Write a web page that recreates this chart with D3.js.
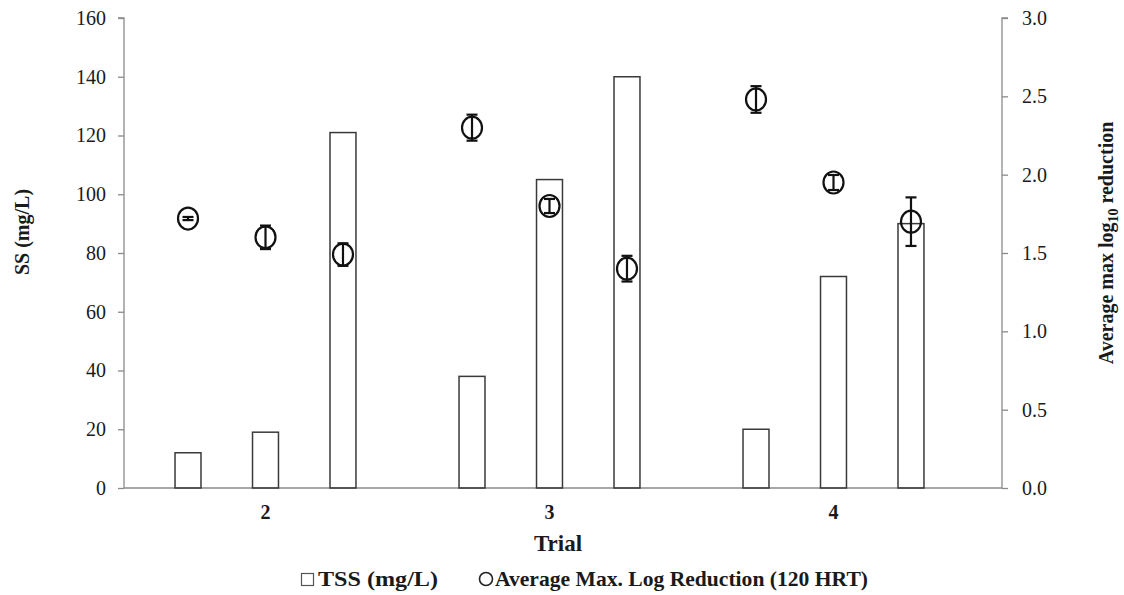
<!DOCTYPE html>
<html>
<head>
<meta charset="utf-8">
<script src="https://cdn.jsdelivr.net/npm/d3@7"></script>
<style>
  body { margin: 0; background: #fff; }
  text { font-family: "Liberation Serif", "Times New Roman", serif; fill: #1a1a1a; }
</style>
</head>
<body>
<div id="chart"></div>
<script>
let svgWidth = 1124;
let svgHeight = 595;
let margin = { top: 18, right: 122, bottom: 107, left: 124 };
let chartWidth = svgWidth - margin.left - margin.right;
let chartHeight = svgHeight - margin.top - margin.bottom;
const serif = "'Liberation Serif', 'Times New Roman', serif";

// data
const trials = ["2", "3", "4"];
const runs = [0, 1, 2];
const tss = [12, 19, 121, 38, 105, 140, 20, 72, 90];
const logRed = [1.72, 1.60, 1.49, 2.30, 1.80, 1.40, 2.48, 1.95, 1.70];
const logErr = [0.01, 0.075, 0.072, 0.083, 0.045, 0.082, 0.085, 0.048, 0.155];
const leftTicks = [0, 20, 40, 60, 80, 100, 120, 140, 160];
const rightTicks = [0, 0.5, 1.0, 1.5, 2.0, 2.5, 3.0];

let rows = tss.map((v, i) => ({
  trial: trials[Math.floor(i / 3)],
  run: runs[i % 3],
  tss: v,
  lr: logRed[i],
  err: logErr[i]
}));

let svg = d3.select("#chart")
  .append("svg")
  .attr("width", svgWidth)
  .attr("height", svgHeight)
  .style("font-family", serif);

let chartGroup = svg.append("g")
  .attr("transform", `translate(${margin.left}, ${margin.top})`);

// trial groups are not centred on the axis, so the band range stops short of the right axis
let xTrial = d3.scaleBand()
  .domain(trials)
  .range([-0.5, 851.5]);

let xRun = d3.scaleBand()
  .domain(runs)
  .range([0, xTrial.bandwidth()])
  .padding(0.665);

let yLeft = d3.scaleLinear().domain([0, 160]).range([chartHeight, 0]);
let yRight = d3.scaleLinear().domain([0, 3]).range([chartHeight, 0]);

const axisColor = "#8a8a8a";

// left axis
let leftAxis = d3.axisLeft(yLeft).tickValues(leftTicks).tickSize(6).tickPadding(12);
let gl = chartGroup.append("g").call(leftAxis);
// right axis
let rightAxis = d3.axisRight(yRight).tickValues(rightTicks).tickSize(6).tickPadding(14)
  .tickFormat(d3.format(".1f"));
let gr = chartGroup.append("g").attr("transform", `translate(${chartWidth}, 0)`).call(rightAxis);

[gl, gr].forEach(g => {
  g.attr("font-family", serif);
  g.select(".domain").attr("stroke", axisColor).attr("stroke-width", 1.3);
  g.selectAll(".tick line").attr("stroke", axisColor).attr("stroke-width", 1.3);
  g.selectAll(".tick text")
    .style("font-family", serif)
    .style("font-size", "20px")
    .attr("fill", "#1a1a1a");
});
gl.select(".domain").attr("d", `M-6,0H0V${chartHeight}`);
gr.select(".domain").attr("d", `M6,0H0V${chartHeight}`);

// bottom axis: labels only, no ticks
let gb = chartGroup.append("g")
  .attr("transform", `translate(0, ${chartHeight})`);
gb.append("line")
  .attr("x1", 0).attr("x2", chartWidth)
  .attr("y1", 0).attr("y2", 0)
  .attr("stroke", axisColor).attr("stroke-width", 1.3);
gb.selectAll(".xlab")
  .data(trials)
  .enter()
  .append("text")
  .attr("class", "xlab")
  .attr("x", d => xTrial(d) + xTrial.bandwidth() / 2)
  .attr("y", 31)
  .attr("text-anchor", "middle")
  .style("font-size", "20px")
  .style("font-weight", "bold")
  .text(d => d);

// bars
chartGroup.selectAll(".bar")
  .data(rows)
  .enter()
  .append("rect")
  .attr("class", "bar")
  .attr("x", d => xTrial(d.trial) + xRun(d.run))
  .attr("y", d => yLeft(d.tss))
  .attr("width", xRun.bandwidth())
  .attr("height", d => chartHeight - yLeft(d.tss))
  .attr("fill", "none")
  .attr("stroke", "#3a3a3a")
  .attr("stroke-width", 1.5);

let cx = d => xTrial(d.trial) + xRun(d.run) + xRun.bandwidth() / 2;

// circles
chartGroup.selectAll(".pt")
  .data(rows)
  .enter()
  .append("ellipse")
  .attr("class", "pt")
  .attr("cx", cx)
  .attr("cy", d => yRight(d.lr))
  .attr("rx", 10)
  .attr("ry", 11)
  .attr("fill", "none")
  .attr("stroke", "#111")
  .attr("stroke-width", 2.2);

// error bars
let eb = chartGroup.selectAll(".err")
  .data(rows)
  .enter()
  .append("g")
  .attr("class", "err")
  .attr("stroke", "#111")
  .attr("stroke-width", 2.2);
eb.append("line")
  .attr("x1", cx).attr("x2", cx)
  .attr("y1", d => yRight(d.lr + d.err))
  .attr("y2", d => yRight(d.lr - d.err));
eb.append("line")
  .attr("x1", d => cx(d) - 5.5).attr("x2", d => cx(d) + 5.5)
  .attr("y1", d => yRight(d.lr + d.err))
  .attr("y2", d => yRight(d.lr + d.err));
eb.append("line")
  .attr("x1", d => cx(d) - 5.5).attr("x2", d => cx(d) + 5.5)
  .attr("y1", d => yRight(d.lr - d.err))
  .attr("y2", d => yRight(d.lr - d.err));

// axis titles
svg.append("text")
  .attr("transform", `translate(29, ${margin.top + 214}) rotate(-90)`)
  .attr("text-anchor", "middle")
  .style("font-size", "20px")
  .style("font-weight", "bold")
  .text("SS (mg/L)");

let rt = svg.append("text")
  .attr("transform", `translate(1113, ${margin.top + 225}) rotate(-90)`)
  .attr("text-anchor", "middle")
  .style("font-size", "20px")
  .style("font-weight", "bold");
rt.append("tspan").text("Average max log");
rt.append("tspan").attr("dy", 5).style("font-size", "14px").text("10");
rt.append("tspan").attr("dy", -5).text(" reduction");

svg.append("text")
  .attr("x", 558)
  .attr("y", 551)
  .attr("text-anchor", "middle")
  .style("font-size", "23px")
  .style("font-weight", "bold")
  .text("Trial");

// legend
let legend = svg.append("g").attr("transform", "translate(301, 586)");
legend.append("rect")
  .attr("x", 0.5).attr("y", -12.5)
  .attr("width", 12).attr("height", 12)
  .attr("fill", "none").attr("stroke", "#555").attr("stroke-width", 1.2);
legend.append("text")
  .attr("x", 17).attr("y", 0)
  .attr("textLength", 120).attr("lengthAdjust", "spacingAndGlyphs")
  .style("font-size", "22px").style("font-weight", "bold")
  .text("TSS (mg/L)");
legend.append("circle")
  .attr("cx", 185).attr("cy", -7).attr("r", 6.5)
  .attr("fill", "none").attr("stroke", "#222").attr("stroke-width", 1.6);
legend.append("text")
  .attr("x", 194).attr("y", 0)
  .attr("textLength", 373).attr("lengthAdjust", "spacingAndGlyphs")
  .style("font-size", "22px").style("font-weight", "bold")
  .text("Average Max. Log Reduction (120 HRT)");
</script>
</body>
</html>
